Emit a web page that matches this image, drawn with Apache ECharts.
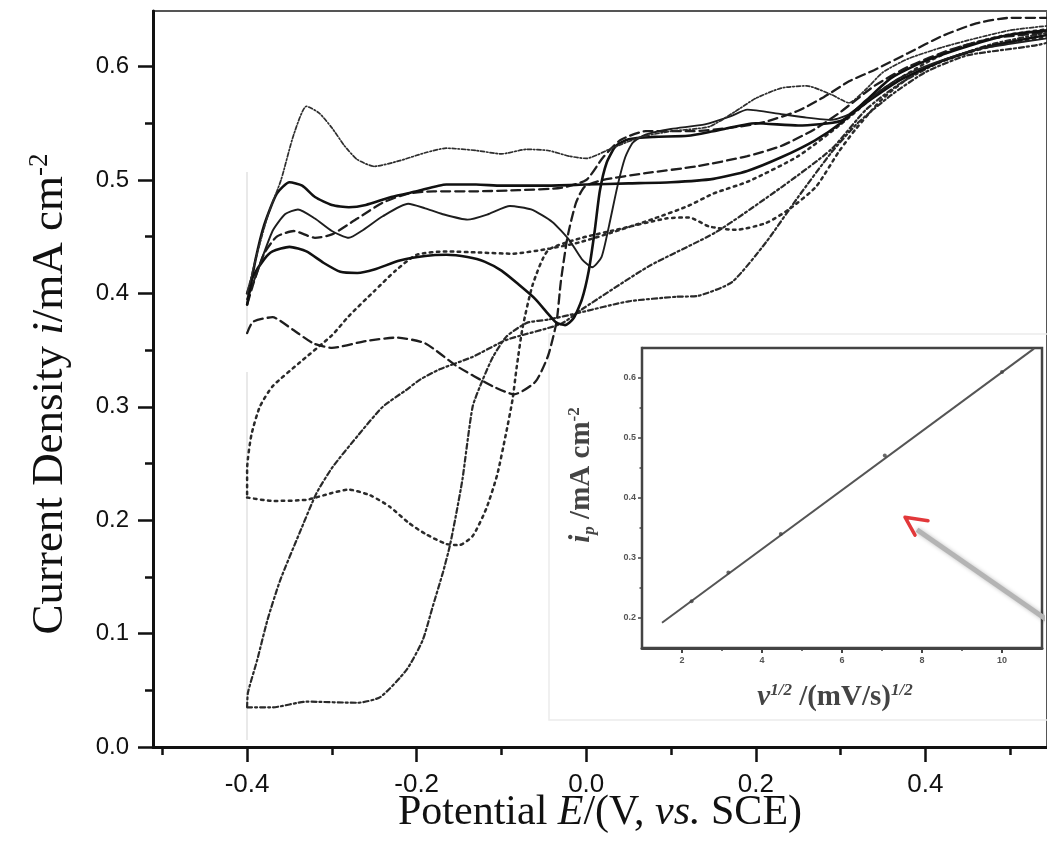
<!DOCTYPE html>
<html><head><meta charset="utf-8">
<script src="https://cdn.jsdelivr.net/npm/echarts@6/dist/echarts.min.js"></script>
<style>html,body{margin:0;padding:0;background:#fff}#c{width:1047px;height:851px}</style>
</head><body><div id="c"></div>
<script>
// ---- main axes ticks ----
const xMajorTicks = [-0.4, -0.2, 0, 0.2, 0.4];
const xMinorTicks = [-0.5, -0.3, -0.1, 0.1, 0.3, 0.5];
const yMajorTicks = [0, 0.1, 0.2, 0.3, 0.4, 0.5, 0.6];
const yMinorTicks = [0.05, 0.15, 0.25, 0.35, 0.45, 0.55];

// ---- CV curves [E (V), i (mA cm^-2)] ----
const curveA = [[-0.40,0.40],[-0.39,0.43],[-0.375,0.47],[-0.36,0.50],[-0.345,0.54],[-0.33,0.565],[-0.315,0.559],[-0.30,0.546],[-0.285,0.53],[-0.27,0.518],[-0.25,0.512],[-0.22,0.517],[-0.19,0.524],[-0.165,0.528],[-0.13,0.526],[-0.10,0.523],[-0.07,0.527],[-0.045,0.526],[-0.02,0.521],[0.00,0.519],[0.03,0.528],[0.065,0.538],[0.10,0.543],[0.145,0.547],[0.175,0.56],[0.20,0.572],[0.23,0.581],[0.26,0.583],[0.29,0.575],[0.31,0.568],[0.33,0.58],[0.35,0.595],[0.38,0.607],[0.42,0.617],[0.46,0.625],[0.50,0.632],[0.545,0.636]];
const curveB = [[-0.40,0.39],[-0.39,0.43],[-0.38,0.46],[-0.365,0.488],[-0.35,0.498],[-0.335,0.495],[-0.32,0.485],[-0.30,0.478],[-0.28,0.476],[-0.26,0.478],[-0.23,0.485],[-0.20,0.49],[-0.165,0.496],[-0.13,0.496],[-0.10,0.495],[-0.05,0.495],[0.00,0.496],[0.05,0.497],[0.10,0.498],[0.15,0.501],[0.19,0.508],[0.23,0.52],[0.27,0.535],[0.30,0.55],[0.33,0.57],[0.36,0.59],[0.40,0.605],[0.45,0.618],[0.50,0.628],[0.545,0.632]];
const curveC = [[-0.40,0.395],[-0.39,0.415],[-0.37,0.455],[-0.355,0.47],[-0.34,0.474],[-0.32,0.466],[-0.30,0.455],[-0.28,0.449],[-0.265,0.455],[-0.24,0.468],[-0.21,0.479],[-0.19,0.475],[-0.17,0.47],[-0.14,0.465],[-0.115,0.47],[-0.09,0.477],[-0.065,0.474],[-0.04,0.463],[-0.02,0.447],[-0.005,0.43],[0.007,0.423],[0.018,0.432],[0.027,0.46],[0.037,0.495],[0.046,0.52],[0.055,0.533],[0.07,0.54],[0.10,0.545],[0.14,0.549],[0.17,0.556],[0.19,0.562],[0.23,0.558],[0.26,0.555],[0.29,0.553],[0.31,0.558],[0.34,0.575],[0.37,0.59],[0.41,0.603],[0.46,0.615],[0.50,0.62],[0.545,0.625]];
const curveD = [[-0.40,0.40],[-0.393,0.415],[-0.38,0.43],[-0.37,0.437],[-0.35,0.441],[-0.33,0.437],[-0.31,0.427],[-0.29,0.419],[-0.27,0.418],[-0.25,0.421],[-0.22,0.429],[-0.19,0.433],[-0.165,0.434],[-0.14,0.432],[-0.12,0.428],[-0.10,0.42],[-0.08,0.408],[-0.06,0.395],[-0.045,0.382],[-0.035,0.374],[-0.025,0.372],[-0.015,0.378],[-0.005,0.395],[0.003,0.42],[0.01,0.455],[0.016,0.49],[0.024,0.515],[0.035,0.53],[0.05,0.536],[0.08,0.538],[0.12,0.539],[0.15,0.543],[0.20,0.55],[0.25,0.548],[0.30,0.552],[0.33,0.568],[0.37,0.588],[0.42,0.605],[0.47,0.617],[0.545,0.628]];
const curveE = [[-0.40,0.365],[-0.393,0.375],[-0.37,0.379],[-0.346,0.368],[-0.322,0.356],[-0.30,0.352],[-0.26,0.358],[-0.224,0.361],[-0.19,0.356],[-0.153,0.336],[-0.11,0.318],[-0.085,0.311],[-0.06,0.322],[-0.045,0.345],[-0.035,0.375],[-0.03,0.41],[-0.022,0.45],[-0.012,0.48],[-0.002,0.494],[0.02,0.5],[0.07,0.506],[0.13,0.512],[0.19,0.521],[0.23,0.53],[0.27,0.545],[0.30,0.56],[0.34,0.583],[0.38,0.6],[0.43,0.615],[0.48,0.625],[0.545,0.632],
  [0.545,0.643],[0.50,0.643],[0.46,0.638],[0.42,0.627],[0.38,0.612],[0.34,0.597],[0.31,0.587],[0.28,0.573],[0.25,0.561],[0.21,0.551],[0.17,0.546],[0.125,0.543],[0.07,0.543],[0.04,0.535],[0.02,0.52],[0.00,0.50],[-0.03,0.493],[-0.08,0.491],[-0.13,0.49],[-0.18,0.49],[-0.21,0.488],[-0.24,0.48],[-0.27,0.466],[-0.30,0.452],[-0.32,0.449],[-0.345,0.455],[-0.365,0.45],[-0.38,0.435],[-0.392,0.41],[-0.40,0.39]];
const curveF = [[-0.40,0.22],[-0.37,0.217],[-0.33,0.218],[-0.30,0.224],[-0.28,0.227],[-0.255,0.222],[-0.232,0.212],[-0.21,0.198],[-0.19,0.188],[-0.165,0.179],[-0.15,0.178],[-0.134,0.186],[-0.118,0.21],[-0.105,0.24],[-0.095,0.275],[-0.087,0.306],[-0.082,0.335],[-0.075,0.37],[-0.063,0.408],[-0.045,0.438],[-0.005,0.449],[0.035,0.456],[0.094,0.466],[0.121,0.467],[0.145,0.459],[0.176,0.456],[0.212,0.462],[0.239,0.474],[0.271,0.494],[0.298,0.525],[0.318,0.545],[0.35,0.572],[0.39,0.595],[0.44,0.61],[0.49,0.62],[0.545,0.627],
  [0.545,0.633],[0.49,0.627],[0.44,0.617],[0.40,0.603],[0.35,0.58],[0.30,0.549],[0.25,0.521],[0.192,0.499],[0.15,0.488],[0.12,0.477],[0.08,0.466],[0.04,0.456],[-0.008,0.445],[-0.047,0.439],[-0.087,0.435],[-0.126,0.436],[-0.165,0.437],[-0.20,0.434],[-0.225,0.42],[-0.25,0.402],[-0.28,0.38],[-0.30,0.363],[-0.338,0.339],[-0.37,0.318],[-0.385,0.30],[-0.395,0.275],[-0.40,0.245],[-0.40,0.22]];
const curveG = [[-0.40,0.035],[-0.37,0.035],[-0.33,0.04],[-0.27,0.039],[-0.243,0.044],[-0.212,0.068],[-0.193,0.094],[-0.181,0.124],[-0.169,0.154],[-0.161,0.177],[-0.153,0.207],[-0.146,0.236],[-0.134,0.30],[-0.122,0.324],[-0.11,0.344],[-0.094,0.362],[-0.07,0.374],[-0.044,0.377],[-0.008,0.383],[0.05,0.393],[0.106,0.397],[0.133,0.398],[0.172,0.41],[0.212,0.445],[0.25,0.485],[0.289,0.524],[0.32,0.55],[0.36,0.575],[0.40,0.595],[0.45,0.61],[0.545,0.622],
  [0.545,0.63],[0.48,0.62],[0.42,0.605],[0.37,0.585],[0.33,0.562],[0.289,0.527],[0.231,0.494],[0.153,0.454],[0.074,0.424],[-0.005,0.386],[-0.03,0.373],[-0.094,0.359],[-0.134,0.344],[-0.173,0.333],[-0.196,0.324],[-0.212,0.315],[-0.24,0.30],[-0.27,0.274],[-0.299,0.247],[-0.318,0.224],[-0.338,0.189],[-0.361,0.147],[-0.376,0.112],[-0.388,0.077],[-0.399,0.048],[-0.40,0.035]];

// ---- inset: peak current vs sqrt(scan rate) ----
const insetX = [2.24, 3.16, 4.47, 7.07, 10.0];
const insetY = [0.228, 0.276, 0.340, 0.471, 0.610];
const insetFit = [[1.5, 0.192], [10.8, 0.649]];
const insetXTicks = [2, 4, 6, 8, 10];
const insetXMinor = [3, 5, 7, 9];
const insetYTicks = [0.2, 0.3, 0.4, 0.5, 0.6];
const insetYMinor = [0.25, 0.35, 0.45, 0.55];
// annotation arrow (inset coordinates)
const arrowShaft = [[7.875, 0.347], [11.12, 0.197]];
const arrowHead = [[8.15, 0.362], [7.575, 0.368], [7.825, 0.338]];

const serif = 'Liberation Serif';
const sans = 'Liberation Sans';
const fmt1 = v => Number(v).toFixed(1);

function curve(name, data, type, width, color) {
  return { name, type: 'line', data, xAxisIndex: 0, yAxisIndex: 0, showSymbol: false, symbol: 'none',
    smooth: 0.2, z: 3, lineStyle: { type, width, color, cap: 'round' } };
}

const chart = echarts.init(document.getElementById('c'), null, { renderer: 'canvas' });
chart.setOption({
  animation: false,
  backgroundColor: '#fff',
  graphic: [
    { type: 'rect', z: 0, shape: { x: 549, y: 334, width: 520, height: 386 }, style: { fill: 'none', stroke: '#ececec', lineWidth: 1.5 } },
    { type: 'line', z: 0, shape: { x1: 247, y1: 172, x2: 247, y2: 330 }, style: { stroke: '#e2e2e2', lineWidth: 1.5 } },
    { type: 'line', z: 0, shape: { x1: 247, y1: 372, x2: 247, y2: 740 }, style: { stroke: '#e2e2e2', lineWidth: 1.5 } }
  ],
  grid: [
    { left: 153, top: 11, right: -3, bottom: 104, show: true, borderColor: '#555', borderWidth: 2, backgroundColor: 'transparent' },
    { left: 642, top: 348, width: 400, height: 300, show: true, borderColor: '#444', borderWidth: 2.5, backgroundColor: '#fff', z: 5 }
  ],
  xAxis: [
    { type: 'value', gridIndex: 0, min: -0.511, max: 0.5435, position: 'bottom',
      axisLine: { show: true, onZero: false, lineStyle: { color: '#111', width: 3 } },
      axisTick: { show: true, customValues: xMajorTicks, length: 15, lineStyle: { color: '#111', width: 2.5 } },
      axisLabel: { show: true, customValues: xMajorTicks, formatter: fmt1, fontFamily: sans, fontSize: 26, color: '#111', margin: 25 },
      splitLine: { show: false },
      name: 'Potential {i|E}/(V, {i|vs.} SCE)', nameLocation: 'middle', nameGap: 45, nameMoveOverlap: false,
      nameTextStyle: { fontFamily: serif, fontSize: 42, color: '#111',
        rich: { i: { fontFamily: serif, fontSize: 42, fontStyle: 'italic', color: '#111' } } } },
    { type: 'value', gridIndex: 0, min: -0.511, max: 0.5435, position: 'bottom',
      axisLine: { show: false, onZero: false },
      axisTick: { show: true, customValues: xMinorTicks, length: 8, lineStyle: { color: '#111', width: 2.5 } },
      axisLabel: { show: false }, splitLine: { show: false } },
    { type: 'value', gridIndex: 1, min: 1, max: 11, position: 'bottom',
      axisLine: { show: true, onZero: false, lineStyle: { color: '#444', width: 3 } },
      axisTick: { show: true, customValues: insetXTicks, length: 5, lineStyle: { color: '#444', width: 2 } },
      axisLabel: { show: true, customValues: insetXTicks, fontFamily: sans, fontSize: 9, fontWeight: 'bold', color: '#555', margin: 8 },
      splitLine: { show: false },
      name: '{i|v}{sup|1/2} /(mV/s){sup|1/2}', nameLocation: 'middle', nameGap: 34,
      nameTextStyle: { fontFamily: serif, fontSize: 29, fontWeight: 'bold', color: '#444', padding: [0, 14, 0, 0], lineHeight: 32,
        rich: { i: { fontFamily: serif, fontSize: 29, fontWeight: 'bold', fontStyle: 'italic', color: '#444' },
                sup: { fontFamily: serif, fontSize: 17, fontWeight: 'bold', fontStyle: 'italic', color: '#444', verticalAlign: 'top', lineHeight: 18 } } } },
    { type: 'value', gridIndex: 1, min: 1, max: 11, position: 'bottom',
      axisLine: { show: false, onZero: false },
      axisTick: { show: true, customValues: insetXMinor, length: 3, lineStyle: { color: '#444', width: 1.5 } },
      axisLabel: { show: false }, splitLine: { show: false } }
  ],
  yAxis: [
    { type: 'value', gridIndex: 0, min: 0, max: 0.649, position: 'left',
      axisLine: { show: true, onZero: false, lineStyle: { color: '#111', width: 3 } },
      axisTick: { show: true, customValues: yMajorTicks, length: 15, lineStyle: { color: '#111', width: 2.5 } },
      axisLabel: { show: true, customValues: yMajorTicks, formatter: fmt1, fontFamily: sans, fontSize: 24, color: '#111', margin: 24 },
      splitLine: { show: false },
      name: 'Current Density {i|i}/mA cm{sup|-2}', nameLocation: 'middle', nameGap: 79,
      nameTextStyle: { fontFamily: serif, fontSize: 45, color: '#111', padding: [0, 30, 0, 0], lineHeight: 48,
        rich: { i: { fontFamily: serif, fontSize: 45, fontStyle: 'italic', color: '#111' },
                sup: { fontFamily: serif, fontSize: 27, color: '#111', verticalAlign: 'top', lineHeight: 27 } } } },
    { type: 'value', gridIndex: 0, min: 0, max: 0.649, position: 'left',
      axisLine: { show: false, onZero: false },
      axisTick: { show: true, customValues: yMinorTicks, length: 8, lineStyle: { color: '#111', width: 2.5 } },
      axisLabel: { show: false }, splitLine: { show: false } },
    { type: 'value', gridIndex: 1, min: 0.15, max: 0.65, position: 'left',
      axisLine: { show: true, onZero: false, lineStyle: { color: '#444', width: 2.5 } },
      axisTick: { show: true, customValues: insetYTicks, length: 4, lineStyle: { color: '#444', width: 1.5 } },
      axisLabel: { show: true, customValues: insetYTicks, formatter: fmt1, fontFamily: sans, fontSize: 9, fontWeight: 'bold', color: '#555', margin: 6 },
      splitLine: { show: false },
      name: '{i|i}{sub|p} /mA cm{sup|-2}', nameLocation: 'middle', nameGap: 44,
      nameTextStyle: { fontFamily: serif, fontSize: 29, fontWeight: 'bold', color: '#444', padding: [0, 0, 0, 46], lineHeight: 32,
        rich: { i: { fontFamily: serif, fontSize: 29, fontWeight: 'bold', fontStyle: 'italic', color: '#444' },
                sub: { fontFamily: serif, fontSize: 17, fontWeight: 'bold', fontStyle: 'italic', color: '#444', verticalAlign: 'bottom', lineHeight: 18 },
                sup: { fontFamily: serif, fontSize: 17, fontWeight: 'bold', color: '#444', verticalAlign: 'top', lineHeight: 18 } } } },
    { type: 'value', gridIndex: 1, min: 0.15, max: 0.65, position: 'left',
      axisLine: { show: false, onZero: false },
      axisTick: { show: true, customValues: insetYMinor, length: 2.5, lineStyle: { color: '#444', width: 1.5 } },
      axisLabel: { show: false }, splitLine: { show: false } }
  ],
  series: [
    curve('G', curveG, [5, 3, 2, 3], 2.2, '#2a2a2a'),
    curve('F', curveF, [2.5, 4.5], 2.5, '#2a2a2a'),
    curve('E', curveE, [9, 5], 2.3, '#1e1e1e'),
    curve('D', curveD, 'solid', 2.6, '#111'),
    curve('C', curveC, 'solid', 1.9, '#1e1e1e'),
    curve('B', curveB, 'solid', 2.6, '#111'),
    curve('A', curveA, [4, 2, 1.5, 2], 1.7, '#2e2e2e'),
    { name: 'fit', type: 'line', xAxisIndex: 2, yAxisIndex: 2, data: insetFit, showSymbol: false, symbol: 'none', z: 6,
      lineStyle: { color: '#555', width: 2 } },
    { name: 'ip', type: 'scatter', xAxisIndex: 2, yAxisIndex: 2, data: insetX.map((x, k) => [x, insetY[k]]), z: 7,
      symbol: 'circle', symbolSize: 4, itemStyle: { color: '#444' } },
    { name: 'arrowShaft', type: 'line', xAxisIndex: 2, yAxisIndex: 2, data: arrowShaft, showSymbol: false, symbol: 'none', clip: false, z: 7,
      lineStyle: { color: '#b4b4b4', width: 5, shadowBlur: 4, shadowColor: 'rgba(0,0,0,0.25)' } },
    { name: 'arrowHead', type: 'line', xAxisIndex: 2, yAxisIndex: 2, data: arrowHead, showSymbol: false, symbol: 'none', clip: false, z: 8,
      lineStyle: { color: '#e2383a', width: 3.5, cap: 'round', join: 'round' } }
  ]
});
</script>
</body></html>
